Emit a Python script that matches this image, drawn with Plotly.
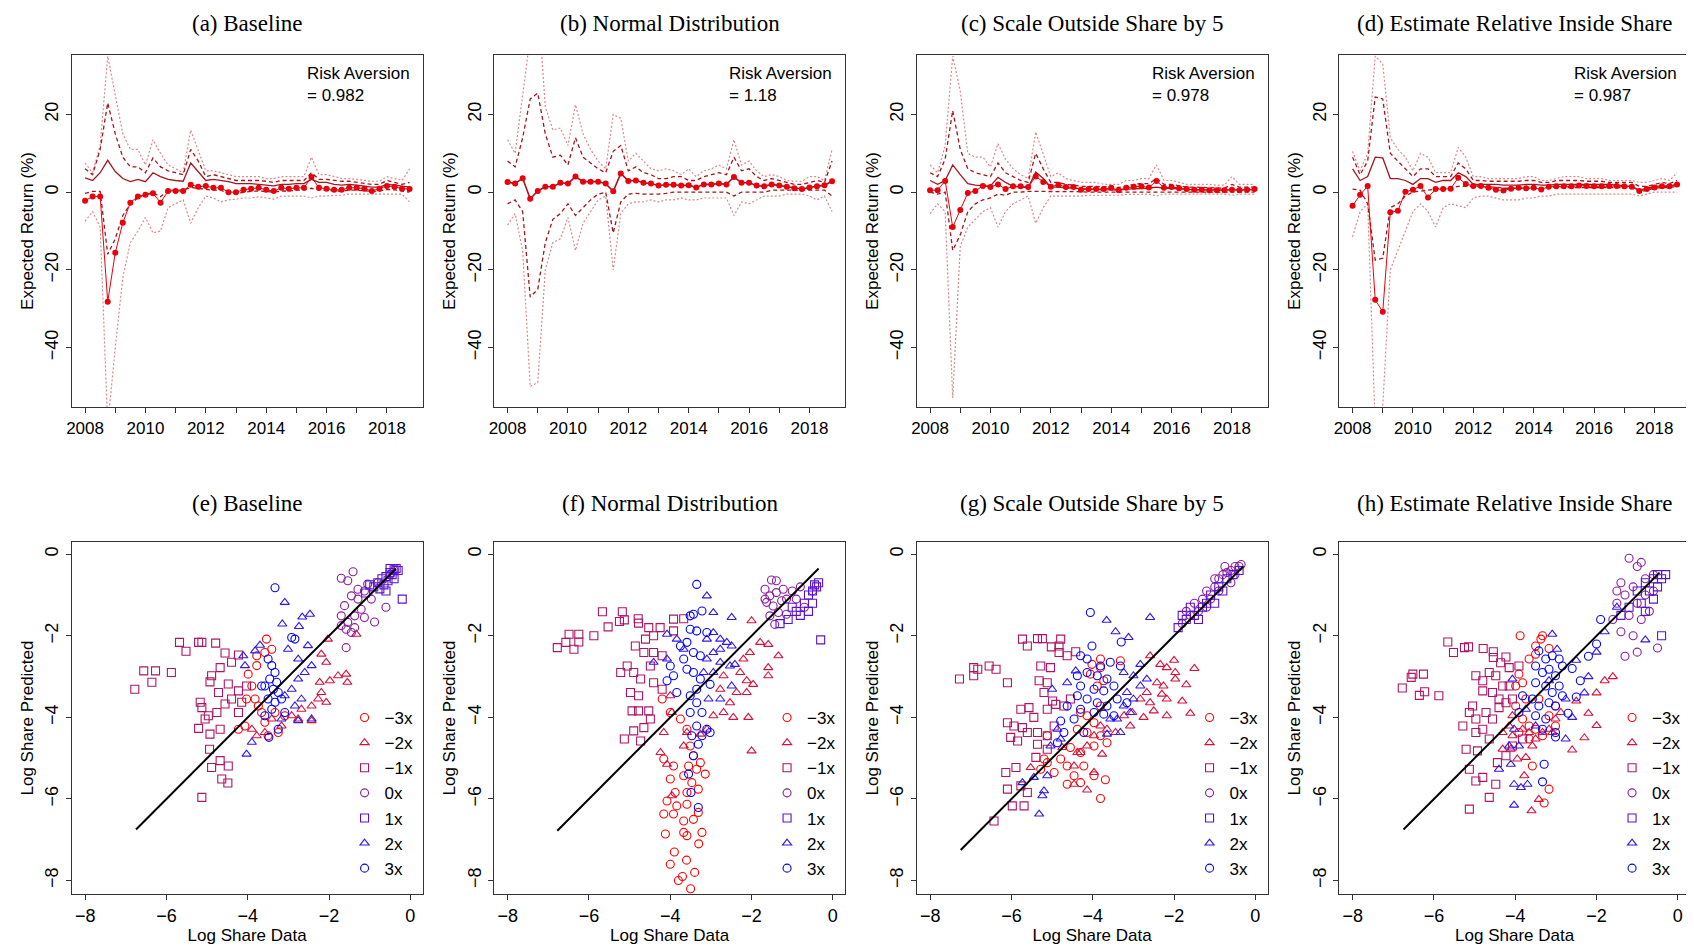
import plotly.graph_objects as go
from plotly.subplots import make_subplots

# ── Top row: expected return series (quarterly, 2008Q1 – 2018Q4) ─────────────
QUARTERS = [2008 + q * 0.25 for q in range(44)]
TOP_TITLES = ["(a) Baseline", "(b) Normal Distribution",
              "(c) Scale Outside Share by 5", "(d) Estimate Relative Inside Share"]
BOT_TITLES = ["(e) Baseline", "(f) Normal Distribution",
              "(g) Scale Outside Share by 5", "(h) Estimate Relative Inside Share"]
RISK_AVERSION = ["0.982", "1.18", "0.978", "0.987"]

DOTS = [
    [-2.2, -1.1, -1.1, -28.2, -15.6, -7.9, -2.7, -1.1, -0.7, -0.3, -2.7, 0.3, 0.3, 0.3, 1.9, 1.4, 1.6, 1.1, 1.1, 0, 0, 0.6,
     0.9, 1.1, 0.6, 0.3, 1.1, 0.9, 1.1, 1.1, 3.9, 1.1, 0.9, 0.6, 0.6, 1.1, 1.1, 0.9, 0.3, 0.9, 1.6, 1.4, 0.9, 0.8],
    [2.6, 2.2, 3.6, -1.7, 0.3, 1.4, 1.4, 2.4, 2.2, 4.0, 2.7, 2.7, 2.7, 2.2, 0.2, 4.8, 2.9, 3.0, 2.4, 2.2, 1.7, 1.9,
     1.9, 1.7, 1.8, 1.2, 2.0, 2.0, 2.2, 2.0, 3.9, 2.4, 2.4, 1.7, 1.5, 2.0, 1.7, 1.4, 1.0, 0.8, 1.2, 1.5, 1.8, 2.8],
    [0.5, 0.5, 2.9, -9.0, -4.6, -0.2, 0.3, 1.6, 1.3, 2.0, 0.8, 1.5, 1.5, 1.3, 4.0, 2.6, 1.4, 1.9, 1.3, 1.3, 0.6, 0.8,
     0.8, 0.8, 1.1, 0.5, 1.1, 1.4, 1.5, 1.2, 2.9, 1.1, 1.3, 1.0, 0.8, 0.6, 0.6, 0.5, 0.5, 0.5, 0.6, 0.5, 0.6, 0.8],
    [-3.5, -0.7, 1.6, -27.7, -30.8, -5.2, -4.8, 0.1, 0.6, 1.6, -1.4, 0.8, 0.8, 0.9, 3.7, 2.1, 1.6, 1.6, 1.1, 0.6, 0.4, 0.9,
     1.1, 1.0, 1.1, 0.7, 1.4, 1.5, 1.5, 1.5, 1.7, 1.6, 1.5, 1.5, 1.6, 1.6, 1.5, 1.4, 0.3, 0.8, 1.2, 1.5, 1.5, 2.0],
]
SOLID = [
    [3.7, 3.0, 5.0, 8.2, 5.3, 3.5, 2.7, 3.3, 2.7, 5.0, 4.0, 3.3, 3.0, 2.8, 7.5, 5.3, 3.0, 3.3, 3.0, 2.7, 2.2, 2.2,
     2.2, 2.0, 1.8, 1.6, 2.0, 2.0, 2.2, 2.2, 3.3, 2.5, 2.5, 2.0, 1.8, 2.0, 1.8, 1.5, 1.3, 1.3, 2.0, 1.8, 1.5, 1.3],
    None,
    [3.0, 2.0, 3.0, 7.0, 4.5, 2.2, 1.8, 1.6, 1.6, 3.8, 2.5, 1.5, 1.3, 1.2, 5.2, 3.5, 1.3, 1.3, 1.1, 1.0, 0.8, 0.7,
     0.7, 0.6, 0.6, 0.5, 0.8, 0.9, 1.0, 1.0, 1.3, 1.0, 1.0, 0.8, 0.7, 0.6, 0.6, 0.5, 0.5, 0.5, 0.6, 0.6, 0.6, 0.6],
    [6.0, 3.0, 4.0, 9.0, 8.8, 3.5, 3.5, 3.0, 2.0, 3.5, 3.5, 2.5, 3.0, 3.0, 5.0, 4.0, 2.0, 2.0, 2.0, 2.0, 1.8, 1.8,
     1.8, 2.0, 2.0, 1.8, 1.8, 2.0, 2.0, 2.0, 2.0, 2.0, 2.0, 2.0, 2.0, 1.8, 1.6, 1.5, 0.5, 1.0, 1.5, 1.6, 1.6, 2.0],
]
DASH_HI = [
    [6, 4.5, 11, 23, 15, 9, 6.5, 6.5, 5, 8.8, 6.5, 5.5, 5, 4.5, 11, 8, 4, 4.5, 4, 3.5, 3, 3,
     3, 3, 2.8, 2.5, 3, 3, 3, 3, 5, 3.3, 3.3, 3, 2.8, 2.8, 2.5, 2.3, 2, 2, 3, 2.5, 2, 2.5],
    [8, 6.5, 14, 24, 25.5, 15, 9, 9.5, 7, 14, 9, 7.5, 6, 5, 10.5, 12, 5.5, 6.5, 5, 4.5, 3.5, 3.5,
     4, 4, 3, 3, 4, 4.5, 5, 4.5, 9, 5.5, 6, 4, 3, 3.5, 3, 2.5, 2, 2, 2.5, 3, 2.5, 8],
    [5, 4, 8.5, 21, 11, 6, 5, 4.5, 4, 7.5, 5, 4, 3, 2.5, 10, 6, 2.5, 2.5, 2, 1.8, 1.5, 1.5,
     1.5, 1.4, 1.3, 1.2, 1.5, 2, 2.2, 2.2, 3.5, 2, 2, 1.7, 1.3, 1.3, 1.2, 1.1, 1, 1, 2, 1.3, 1.3, 1.3],
    [9, 4.5, 8, 24.5, 24, 10, 8, 6, 4, 6, 6, 4, 4, 4, 7.5, 6, 3, 3, 2.8, 2.8, 2.8, 2.8,
     2.8, 3, 3, 2.5, 2.5, 3, 3, 3, 3, 2.8, 2.8, 2.8, 2.5, 2.5, 2.5, 2.5, 1.5, 1.5, 2, 2.5, 2.2, 3],
]
DASH_LO = [
    [-0.3, 0.2, 0.2, -16, -12, -6, -3, -1.5, -0.5, -0.2, -1.2, 0.5, 0.5, 0.5, 1.2, 1, 0.8, 0.5, 0.5, -0.3, -0.3, 0,
     0.2, 0.3, 0.2, 0, 0.3, 0.3, 0.5, 0.5, 1, 0.5, 0.5, 0.3, 0.3, 0.5, 0.5, 0.3, 0.2, 0.3, 0.7, 0.6, 0.3, 0],
    [-3, -2, -5, -27, -25, -13, -7, -5.5, -3, -6, -4, -2, -0.5, 0, -10.5, -2.5, -0.5, -0.3, -0.5, -0.5, -0.5, -0.3,
     0, 0, 0, 0, 0, 0, 0, 0, -1, 0, 0, 0, 0, 0.5, 0.5, 0.5, 0.5, 0.5, 0.5, 0.5, 0.5, -1],
    [0, -0.5, 0, -15, -11, -5, -3, -2, -1.5, -0.5, -0.8, 0, 0, 0.2, 0.2, 0.2, 0.2, 0.2, 0.2, 0.2, 0.1, 0,
     0, 0, 0, 0, 0, 0, 0, 0, 0, 0, 0, 0, 0, 0, 0, 0, 0, 0, 0, 0, 0, 0],
    [0.8, 0.5, -3, -17.5, -17, -4, -3, -1, 0, 0.3, 0.5, 0.8, 1, 1, 1.5, 1.5, 1.5, 1.5, 1.3, 1.3, 1, 1,
     1, 1, 1, 1, 1.2, 1.2, 1.2, 1.2, 1.2, 1.2, 1.2, 1.2, 1.2, 1.2, 1.2, 1.2, 0, 0.5, 1, 1.2, 1.2, 1.5],
]
DOT_HI = [
    [7.5, 5, 12, 35, 25, 15, 11, 11, 7, 13.5, 10, 7, 6, 5, 16, 11, 5.5, 5.5, 5, 4.5, 4, 4,
     4, 4, 3.5, 3.5, 4, 4, 4, 4, 9, 4.5, 4.5, 4, 3.5, 3.5, 3.3, 3, 2.8, 2.8, 4, 3.5, 3, 6],
    [13.5, 10, 25, 40, 50, 22, 16, 16.5, 12, 22.5, 15, 11, 8, 6, 20, 19, 8, 10, 8, 6, 5.5, 6,
     5.5, 4.5, 6, 4, 5.5, 6, 7, 6, 13.5, 7, 8, 5.5, 4, 4.5, 4, 3, 2.8, 2.8, 4, 4, 3, 11],
    [7, 5, 12, 35, 26, 10, 9, 9, 6.5, 12.5, 8.5, 6, 4.5, 3.5, 15.5, 10, 4, 5, 3.5, 3, 2.5, 2.5,
     2.5, 2, 2, 2, 3, 3, 3.5, 3.5, 7, 3, 3, 2.5, 2, 2, 2, 2, 1.8, 1.8, 4, 2, 2, 2],
    [10.5, 5.5, 10, 35, 33, 14, 11, 9, 5.5, 10, 9, 5, 5, 5, 11.5, 9, 4, 4, 3.5, 3.5, 3.5, 3.5,
     3.5, 4, 4, 3, 3, 3.5, 4, 4, 4, 3.5, 3.5, 3.5, 3, 3, 3, 3, 2.5, 2.5, 3, 3.5, 3, 5],
]
DOT_LO = [
    [-7.5, -5, -9, -60, -40, -22, -13, -10, -6.5, -10.5, -10, -4, -3, -2, -8, -4, -1, -1.5, -2.5, -2, -1.8, -1.5,
     -1.5, -1.2, -1.5, -1.8, -1, -1, -1, -1, -1.5, -1, -1, -0.8, -0.8, -0.5, -0.5, -0.5, -0.5, -0.5, -0.5, -0.5, -0.5, -2.5],
    [-8.5, -5.5, -15, -50, -49, -20, -13, -12, -6.5, -15, -8, -5, -2, -1, -20, -5.5, -3, -2.5, -2.5, -2, -2.5, -2,
     -2, -1.5, -2, -2, -1.5, -1.5, -1.5, -1.5, -6, -2.5, -3, -2, -1, -1, -1, -0.5, -0.5, -0.5, -1, -2, -1, -5],
    [-5.5, -3, -5, -53, -14, -9, -7, -5, -4, -9, -5, -3, -2, -1, -8, -4, -1, -1, -1, -1, -1, -0.8,
     -0.8, -0.8, -0.8, -0.8, -0.6, -0.6, -0.5, -0.5, -1, -0.5, -0.5, -0.5, -0.5, -0.5, -0.5, -0.5, -0.5, -0.5, -0.8, -0.5, -0.5, -0.5],
    [-11.5, -5, -3, -60, -55, -20, -15, -10, -5, -3, -5, -9, -4, -3, -3.5, -4, -1.5, -1, -1, -1.5, -2, -2,
     -2, -1.5, -1.5, -1, -1, -0.5, -0.5, -0.5, -0.5, -0.5, -0.5, -0.5, -0.5, -0.5, -0.5, -0.5, -1, -0.5, 0, 0, 0, 0],
]

# ── Bottom row: log share predicted vs data, per shock group ──────────────────
GROUPS = ["−3x", "−2x", "−1x", "0x", "1x", "2x", "3x"]
GROUP_SYMBOLS = ["circle-open", "triangle-up-open", "square-open", "circle-open",
                 "square-open", "triangle-up-open", "circle-open"]
GROUP_COLORS = ["#FF0000", "#D8103C", "#AE1468", "#8C1C9E", "#5A14C8", "#3218E8", "#0000FF"]
DIAG = [(-6.75, -0.35), (-6.78, -0.35), (-7.25, -0.3), (-6.75, -0.45)]

# panel (e)
E_M3 = [(-3.54, -2.08), (-3.58, -2.41), (-3.78, -2.49), (-3.99, -2.94), (-3.90, -3.23), (-4.03, -3.55), (-3.82, -3.55),
        (-3.66, -3.88), (-4.23, -4.29), (-4.07, -4.21), (-3.58, -4.12), (-3.33, -3.88), (-3.25, -4.37), (-3.50, -4.45),
        (-3.78, -2.73), (-3.41, -2.33), (-3.09, -3.96), (-3.74, -3.72)]
E_M2 = [(-2.03, -2.08), (-2.07, -2.65), (-2.19, -2.45), (-2.23, -3.14), (-1.98, -3.10), (-1.78, -2.98), (-1.58, -2.94),
        (-1.55, -3.14), (-2.19, -3.39), (-2.07, -3.63), (-2.43, -3.72), (-2.68, -3.80), (-2.92, -3.96), (-3.17, -4.21),
        (-3.58, -4.37), (-3.78, -4.45), (-2.43, -4.08), (-2.76, -4.04), (-3.41, -4.04), (-3.90, -4.29), (-1.33, -1.96),
        (-2.27, -3.55)]
E_M1 = [(-6.78, -3.31), (-6.56, -2.86), (-6.27, -2.86), (-6.36, -3.14), (-5.88, -2.90), (-5.68, -2.16), (-5.52, -2.38),
        (-5.21, -2.16), (-5.13, -2.16), (-4.79, -2.18), (-4.56, -2.42), (-4.23, -2.47), (-4.68, -2.78), (-4.40, -2.65),
        (-4.89, -2.98), (-4.93, -3.13), (-4.72, -3.39), (-4.48, -3.18), (-4.23, -3.35), (-5.17, -3.63), (-5.13, -3.76),
        (-4.97, -3.96), (-4.76, -3.88), (-4.56, -3.67), (-4.40, -3.55), (-4.23, -3.88), (-4.15, -3.63), (-5.21, -4.27),
        (-4.93, -4.41), (-4.68, -4.29), (-4.94, -4.78), (-4.89, -5.23), (-4.68, -5.06), (-4.48, -5.19), (-4.64, -5.51),
        (-4.49, -5.61), (-5.13, -5.96), (-5.05, -4.04), (-4.03, -3.23)]
E_Z0 = [(-1.70, -0.59), (-1.54, -0.65), (-1.41, -0.43), (-1.05, -0.73), (-1.13, -0.90), (-1.29, -0.86), (-1.45, -1.02),
        (-1.62, -1.26), (-1.70, -1.51), (-1.54, -1.67), (-1.37, -1.51), (-1.21, -1.35), (-1.13, -1.55), (-1.58, -1.84),
        (-1.45, -1.92), (-1.58, -2.29), (-0.88, -1.66), (-1.29, -1.10), (-0.96, -1.10), (-1.70, -1.75), (-1.37, -1.80),
        (-0.8, -0.7), (-0.5, -0.5), (-0.6, -1.3), (-0.4, -0.4)]
E_P1 = [(-1.1, -0.95), (-0.9, -0.8), (-0.8, -0.7), (-0.7, -0.6), (-0.6, -0.55), (-0.5, -0.45), (-0.4, -0.38),
        (-0.35, -0.35), (-0.45, -0.5), (-0.55, -0.65), (-0.65, -0.75), (-0.3, -0.4), (-0.2, -1.1), (-0.6, -0.9),
        (-1.0, -0.75), (-0.75, -0.85), (-0.4, -0.6), (-0.5, -0.35)]
E_P2 = [(-3.09, -1.18), (-3.15, -1.71), (-2.74, -1.77), (-2.66, -1.54), (-2.47, -1.47), (-3.70, -2.23), (-3.82, -2.37),
        (-4.11, -2.49), (-4.07, -2.73), (-3.01, -2.33), (-2.76, -2.57), (-2.52, -2.24), (-2.43, -2.73), (-2.60, -2.90),
        (-2.76, -3.06), (-2.92, -3.31), (-2.68, -3.55), (-2.84, -3.72), (-3.09, -3.47), (-2.76, -4.08), (-4.03, -4.90),
        (-3.90, -4.61), (-3.17, -4.04), (-2.43, -4.04)]
E_P3 = [(-3.50, -2.57), (-3.41, -2.73), (-3.33, -2.90), (-3.46, -3.06), (-3.58, -3.23), (-3.37, -3.31), (-3.25, -3.39),
        (-3.50, -3.55), (-3.33, -3.63), (-3.17, -3.55), (-3.41, -3.80), (-3.58, -3.96), (-2.92, -2.04), (-2.84, -2.08),
        (-3.33, -0.82), (-3.09, -3.88), (-3.25, -4.29), (-3.48, -4.49), (-3.66, -3.23), (-3.29, -3.14)]

# panel (f)
F_M3 = [(-4.20, -3.55), (-4.00, -3.88), (-3.75, -4.04), (-3.59, -4.29), (-3.51, -4.70), (-3.43, -4.94), (-3.55, -5.19),
        (-3.35, -5.27), (-3.67, -5.43), (-3.47, -5.60), (-4.00, -5.51), (-3.88, -5.84), (-3.59, -5.84), (-3.31, -5.76),
        (-4.08, -6.05), (-3.84, -6.17), (-3.59, -6.13), (-3.31, -6.33), (-4.16, -6.37), (-3.92, -6.37), (-3.67, -6.54),
        (-3.43, -6.50), (-3.22, -6.82), (-3.67, -6.82), (-4.12, -6.86), (-3.59, -6.90), (-3.26, -5.11), (-3.14, -5.39),
        (-4.16, -5.02), (-3.92, -5.19), (-3.9, -7.3), (-3.6, -7.5), (-3.4, -7.8), (-3.8, -8.0), (-3.5, -8.2),
        (-4.0, -7.6), (-3.3, -7.1), (-3.7, -7.9)]
F_M2 = [(-2.00, -1.63), (-1.79, -2.16), (-1.59, -2.21), (-1.34, -2.49), (-1.59, -2.78), (-1.59, -2.98), (-2.04, -2.41),
        (-2.20, -2.57), (-2.28, -2.90), (-2.12, -3.10), (-1.96, -3.19), (-2.37, -3.39), (-2.12, -3.39), (-2.53, -3.64),
        (-2.69, -3.88), (-2.45, -4.00), (-2.08, -4.00), (-2.94, -3.96), (-3.10, -4.29), (-3.26, -4.41), (-3.59, -4.37),
        (-3.67, -4.70), (-3.96, -3.88), (-4.16, -4.37), (-4.24, -4.86), (-4.08, -5.15), (-3.96, -5.92), (-2.77, -3.31),
        (-2.69, -2.98), (-2.00, -4.82), (-4.00, -3.47)]
F_M1 = [(-6.78, -2.29), (-6.57, -2.16), (-6.49, -1.96), (-6.25, -1.96), (-6.37, -2.33), (-6.25, -2.15), (-5.88, -2.00),
        (-5.67, -1.41), (-5.53, -1.78), (-5.18, -1.41), (-5.25, -1.65), (-5.13, -1.61), (-4.79, -1.58), (-4.78, -1.69),
        (-4.53, -1.80), (-4.25, -1.80), (-4.41, -2.00), (-4.61, -2.08), (-4.86, -2.25), (-4.65, -2.41), (-4.41, -2.41),
        (-4.20, -2.49), (-5.06, -2.74), (-4.90, -2.90), (-5.22, -2.90), (-4.73, -3.06), (-4.49, -2.74), (-4.41, -3.15),
        (-4.20, -3.31), (-4.98, -3.39), (-4.78, -3.47), (-4.94, -3.84), (-4.78, -3.84), (-4.53, -3.84), (-4.49, -4.04),
        (-4.65, -4.25), (-4.90, -4.33), (-5.13, -4.53), (-4.73, -4.58), (-3.92, -1.59), (-3.67, -1.58), (-3.92, -1.88)]
F_Z0 = [(-1.51, -0.63), (-1.39, -0.65), (-1.67, -0.86), (-1.55, -1.02), (-1.39, -0.94), (-1.22, -0.86), (-1.63, -1.18),
        (-1.47, -1.27), (-1.26, -1.14), (-1.14, -1.10), (-1.55, -1.51), (-1.34, -1.43), (-1.43, -1.72), (-1.14, -1.47),
        (-1.67, -1.10), (-0.9, -1.1), (-0.7, -1.3), (-0.5, -0.9), (-0.8, -0.8), (-1.0, -0.9)]
F_P1 = [(-1.1, -1.6), (-0.9, -1.4), (-0.7, -1.2), (-0.6, -1.0), (-0.5, -0.9), (-0.4, -0.8), (-0.35, -0.7),
        (-0.8, -1.5), (-1.0, -1.3), (-0.5, -1.2), (-0.3, -2.1), (-1.3, -1.7), (-0.6, -1.4), (-0.45, -0.75)]
F_P2 = [(-3.10, -1.02), (-2.94, -1.43), (-2.49, -1.55), (-4.08, -1.96), (-3.84, -2.08), (-3.67, -2.33), (-3.10, -2.08),
        (-2.94, -1.92), (-2.77, -2.08), (-2.61, -2.16), (-2.49, -2.25), (-2.77, -2.33), (-2.94, -2.41), (-3.10, -2.57),
        (-2.77, -2.65), (-2.53, -2.74), (-2.41, -2.70), (-4.41, -2.65), (-4.08, -2.57), (-3.18, -2.90), (-2.94, -2.90),
        (-2.49, -3.23), (-2.77, -3.55), (-3.06, -3.55)]
F_P3 = [(-3.35, -0.74), (-3.22, -1.39), (-3.43, -1.47), (-3.51, -1.51), (-3.51, -1.84), (-3.35, -1.88), (-3.10, -1.92),
        (-3.59, -2.16), (-3.43, -2.41), (-3.26, -2.49), (-3.67, -2.57), (-3.75, -2.25), (-3.59, -2.82), (-3.92, -2.98),
        (-3.43, -2.90), (-3.26, -3.06), (-3.35, -3.31), (-3.51, -3.47), (-3.35, -3.64), (-3.22, -3.88), (-3.02, -3.19),
        (-3.51, -3.88), (-3.35, -4.21), (-3.10, -4.29), (-3.22, -4.45), (-3.02, -4.37), (-3.47, -4.45), (-3.31, -4.66),
        (-3.43, -4.94), (-3.55, -5.39), (-3.49, -5.84), (-3.31, -6.21), (-4.00, -2.74), (-4.08, -3.10), (-3.84, -3.39)]

# panel (g)
G_M3 = [(-3.81, -2.57), (-3.81, -2.78), (-4.02, -2.70), (-4.06, -2.94), (-3.73, -3.10), (-3.32, -2.61), (-3.89, -3.23),
        (-4.30, -3.88), (-4.14, -3.96), (-3.97, -4.13), (-4.38, -4.29), (-4.14, -4.37), (-3.81, -4.45), (-3.65, -4.62),
        (-3.97, -4.70), (-4.30, -4.86), (-4.55, -4.74), (-4.79, -5.02), (-5.12, -5.11), (-5.28, -5.27), (-4.95, -5.35),
        (-4.63, -5.19), (-4.46, -5.43), (-4.30, -5.60), (-4.63, -5.64), (-3.97, -5.43), (-3.69, -5.53), (-3.81, -5.99),
        (-5.20, -5.02), (-4.22, -5.19), (-5.12, -4.45), (-3.81, -3.72)]
G_M2 = [(-2.59, -2.49), (-2.34, -2.70), (-2.18, -2.78), (-1.97, -2.90), (-1.97, -3.06), (-2.26, -3.23), (-2.42, -3.15),
        (-2.67, -3.39), (-2.83, -3.55), (-2.59, -3.64), (-2.30, -3.43), (-2.18, -3.55), (-2.18, -3.96), (-2.50, -3.84),
        (-2.75, -4.00), (-3.03, -3.88), (-3.23, -3.96), (-3.44, -4.37), (-3.08, -4.21), (-3.65, -4.29), (-3.81, -4.21),
        (-3.97, -4.45), (-4.14, -4.70), (-4.38, -4.86), (-4.46, -5.19), (-4.30, -4.86), (-3.77, -4.90), (-3.97, -5.35),
        (-4.46, -5.64), (-4.14, -5.78), (-4.75, -4.74), (-5.53, -5.23), (-1.7, -3.2), (-1.5, -2.8), (-1.8, -3.6),
        (-1.6, -3.9), (-2.0, -2.6)]
G_M1 = [(-7.28, -3.06), (-6.93, -2.98), (-6.93, -2.78), (-6.83, -2.82), (-6.55, -2.74), (-6.38, -2.82), (-6.10, -3.15),
        (-5.73, -2.08), (-5.61, -2.25), (-5.36, -2.07), (-5.24, -2.07), (-5.02, -2.27), (-4.79, -2.08), (-4.83, -2.25),
        (-4.83, -2.41), (-4.63, -2.49), (-4.42, -2.39), (-5.28, -2.74), (-5.04, -2.78), (-5.12, -3.15), (-5.32, -3.10),
        (-5.20, -3.39), (-4.99, -3.60), (-5.12, -3.80), (-4.91, -3.68), (-4.71, -3.72), (-4.55, -3.55), (-5.77, -3.80),
        (-5.57, -3.76), (-5.45, -4.00), (-6.10, -4.13), (-5.94, -4.21), (-5.73, -4.25), (-5.61, -4.37), (-6.02, -4.49),
        (-5.85, -4.58), (-5.36, -4.37), (-5.36, -4.66), (-5.12, -4.45), (-5.12, -4.78), (-6.14, -5.35), (-5.89, -5.23),
        (-6.10, -5.76), (-5.98, -6.17), (-5.69, -6.17), (-5.61, -5.84), (-6.43, -6.54), (-5.77, -5.68), (-4.95, -4.21),
        (-5.40, -4.98)]
G_Z0 = [(-1.8, -1.7), (-1.6, -1.5), (-1.5, -1.2), (-1.3, -1.1), (-1.2, -0.9), (-1.0, -0.8), (-0.9, -0.6), (-0.8, -0.5),
        (-0.7, -0.45), (-0.6, -0.4), (-0.5, -0.3), (-0.4, -0.3), (-0.35, -0.25), (-1.4, -1.4), (-1.7, -1.4),
        (-1.1, -1.1), (-0.9, -0.9), (-0.6, -0.7), (-1.2, -1.3), (-0.5, -0.5), (-0.75, -0.3), (-1.0, -0.6)]
G_P1 = [(-1.9, -1.8), (-1.7, -1.6), (-1.5, -1.5), (-1.3, -1.3), (-1.1, -1.0), (-0.9, -0.8), (-0.7, -0.6),
        (-0.55, -0.5), (-0.4, -0.4), (-1.6, -1.3), (-1.2, -1.2), (-0.8, -0.9), (-1.4, -1.6), (-1.0, -1.2), (-1.8, -1.5)]
G_P2 = [(-3.66, -1.62), (-3.44, -1.90), (-3.12, -2.04), (-2.59, -1.55), (-4.42, -2.86), (-4.63, -3.15), (-5.00, -3.31),
        (-3.24, -2.90), (-3.00, -2.98), (-2.83, -2.70), (-2.83, -3.23), (-2.67, -3.06), (-3.16, -3.39), (-3.00, -3.55),
        (-3.24, -3.72), (-3.40, -4.04), (-3.32, -4.37), (-3.65, -4.41), (-4.79, -4.53), (-5.04, -4.70), (-5.12, -5.43),
        (-5.45, -5.47), (-5.73, -5.60), (-5.20, -5.80), (-5.24, -5.92), (-5.32, -6.37), (-4.87, -4.29), (-3.08, -3.88),
        (-3.57, -4.04)]
G_P3 = [(-4.06, -1.43), (-4.02, -2.25), (-3.30, -2.15), (-4.30, -2.49), (-4.14, -2.57), (-3.81, -2.74), (-3.57, -2.65),
        (-3.32, -2.74), (-4.38, -2.98), (-4.14, -2.90), (-3.89, -2.98), (-3.65, -3.06), (-4.30, -3.23), (-3.97, -3.31),
        (-3.73, -3.35), (-3.48, -3.23), (-4.38, -3.47), (-4.14, -3.55), (-3.89, -3.64), (-3.65, -3.72), (-3.40, -3.55),
        (-4.30, -3.80), (-3.97, -3.88), (-3.73, -3.92), (-4.63, -3.72), (-4.46, -4.04), (-4.79, -4.09), (-4.22, -4.37),
        (-4.71, -4.37), (-4.87, -4.62), (-3.48, -3.96), (-3.16, -3.64)]

# panel (h)
H_M3 = [(-3.88, -2.00), (-3.33, -2.00), (-3.37, -2.08), (-3.50, -2.25), (-3.17, -2.31), (-3.66, -2.57), (-3.50, -2.45),
        (-3.91, -2.94), (-3.82, -3.15), (-3.99, -3.23), (-3.74, -3.55), (-3.99, -3.72), (-3.82, -4.04), (-3.66, -4.21),
        (-3.91, -4.37), (-3.50, -4.29), (-3.33, -4.45), (-3.66, -4.53), (-3.17, -3.96), (-3.01, -4.21), (-3.58, -5.19),
        (-3.17, -5.76), (-3.29, -6.10), (-3.01, -3.72), (-3.42, -3.55)]
H_M2 = [(-4.31, -4.78), (-4.11, -4.78), (-3.95, -5.02), (-3.74, -4.98), (-4.07, -4.45), (-3.82, -4.29), (-3.66, -4.37),
        (-3.50, -4.53), (-3.33, -4.37), (-3.17, -4.29), (-3.01, -4.04), (-2.88, -3.88), (-3.58, -4.70), (-3.78, -5.43),
        (-3.42, -6.01), (-3.60, -6.29), (-3.09, -4.37), (-4.31, -4.37), (-4.07, -3.96), (-4.15, -4.21), (-2.5, -3.6),
        (-2.2, -3.9), (-2.0, -4.2), (-1.8, -3.1), (-2.3, -4.5), (-1.6, -3.0), (-2.6, -4.8), (-2.0, -3.4)]
H_M1 = [(-6.78, -3.28), (-6.56, -3.02), (-6.52, -2.94), (-6.36, -3.46), (-6.26, -2.94), (-6.23, -3.37), (-5.88, -3.47),
        (-5.66, -2.15), (-5.52, -2.41), (-5.25, -2.29), (-5.15, -2.27), (-4.79, -2.31), (-4.54, -2.39), (-4.23, -2.52),
        (-4.54, -2.53), (-4.36, -2.66), (-4.97, -2.98), (-4.80, -3.10), (-4.64, -2.90), (-4.48, -2.98), (-4.15, -2.78),
        (-3.91, -2.74), (-4.80, -3.35), (-4.56, -3.39), (-4.31, -3.23), (-4.40, -3.55), (-4.23, -3.64), (-4.07, -3.55),
        (-5.13, -3.88), (-4.97, -4.04), (-4.72, -3.88), (-4.56, -4.04), (-4.97, -4.37), (-4.80, -4.29), (-5.21, -4.78),
        (-4.93, -4.82), (-4.64, -4.53), (-5.13, -5.27), (-4.97, -5.56), (-4.80, -5.47), (-4.48, -5.64), (-4.64, -5.96),
        (-5.13, -6.25), (-4.44, -5.11), (-4.23, -4.94), (-4.07, -4.70), (-3.82, -4.53), (-5.29, -4.21), (-5.05, -3.72),
        (-4.40, -3.76), (-4.15, -3.23)]
H_Z0 = [(-1.2, -0.1), (-1.0, -0.3), (-0.9, -0.2), (-0.8, -0.6), (-1.1, -0.8), (-1.3, -1.0), (-1.5, -1.2), (-1.6, -1.6),
        (-1.4, -1.9), (-1.2, -1.5), (-1.0, -1.2), (-0.8, -1.0), (-0.9, -1.6), (-1.1, -2.0), (-1.3, -2.5), (-0.6, -0.9),
        (-0.7, -1.4), (-1.5, -0.9), (-0.5, -2.3), (-1.0, -2.4), (-0.6, -0.5), (-1.4, -0.7)]
H_P1 = [(-1.0, -0.9), (-0.8, -0.7), (-0.6, -0.6), (-0.5, -0.5), (-0.4, -0.6), (-0.7, -0.9), (-0.9, -1.2), (-1.2, -1.3),
        (-0.5, -0.8), (-0.3, -0.5), (-0.6, -1.1), (-1.4, -1.5), (-0.4, -2.0), (-0.8, -1.4)]
H_P2 = [(-3.09, -1.96), (-2.97, -2.33), (-4.07, -3.06), (-4.03, -4.29), (-4.15, -4.70), (-3.91, -4.70), (-4.40, -5.27),
        (-4.11, -5.15), (-4.03, -5.64), (-3.86, -5.72), (-3.70, -5.64), (-4.03, -6.15), (-3.50, -4.21), (-3.74, -3.80),
        (-3.17, -3.10), (-2.76, -3.55), (-2.76, -4.53), (-2.5, -2.6), (-2.2, -3.0), (-2.0, -2.4), (-1.8, -1.9),
        (-2.3, -3.4), (-1.5, -1.3), (-0.8, -2.1), (-2.6, -4.0)]
H_P3 = [(-3.42, -2.37), (-3.25, -2.57), (-3.09, -2.49), (-2.92, -2.57), (-3.50, -2.74), (-3.33, -2.90), (-3.17, -2.82),
        (-3.01, -2.98), (-2.84, -2.74), (-3.50, -3.15), (-3.25, -3.23), (-3.09, -3.39), (-2.92, -3.23), (-3.58, -3.55),
        (-3.42, -3.72), (-3.17, -3.64), (-3.01, -3.72), (-2.84, -3.47), (-3.50, -3.96), (-3.25, -4.04), (-3.01, -4.37),
        (-3.33, -4.29), (-3.91, -3.88), (-3.82, -3.47), (-3.29, -5.15), (-3.33, -5.58), (-3.01, -4.48), (-2.6, -2.8),
        (-2.4, -3.1), (-2.2, -2.5), (-2.5, -3.5), (-2.0, -2.2), (-1.9, -1.6), (-2.7, -3.9)]

SCATTER = [
    [E_M3, E_M2, E_M1, E_Z0, E_P1, E_P2, E_P3],
    [F_M3, F_M2, F_M1, F_Z0, F_P1, F_P2, F_P3],
    [G_M3, G_M2, G_M1, G_Z0, G_P1, G_P2, G_P3],
    [H_M3, H_M2, H_M1, H_Z0, H_P1, H_P2, H_P3],
]

# ── Figure geometry (pixels; shifted by the page's 8px body margin) ──────────
W, H = 1694, 947
OFF = 8
LEFTS = [66 - OFF, 490 - OFF, 914 - OFF, 1338 - OFF]
PW = 352
TOP_Y = (55 - OFF, 407 - OFF)
BOT_Y = (542 - OFF, 894 - OFF)

fig = make_subplots(rows=2, cols=4)

DARK = "#A3161E"
LIGHT = "#D88A8A"
DOTRED = "#E8000B"
SANS = "Liberation Sans, Arial"

for i in range(4):
    col = i + 1
    for band in (DOT_HI[i], DOT_LO[i]):
        fig.add_trace(go.Scatter(x=QUARTERS, y=band, mode="lines",
                                 line=dict(color=LIGHT, width=1.2, dash="2px,2px"), showlegend=False), row=1, col=col)
    for band in (DASH_HI[i], DASH_LO[i]):
        fig.add_trace(go.Scatter(x=QUARTERS, y=band, mode="lines",
                                 line=dict(color=DARK, width=1.3, dash="4px,3px"), showlegend=False), row=1, col=col)
    if SOLID[i] is not None:
        fig.add_trace(go.Scatter(x=QUARTERS, y=SOLID[i], mode="lines",
                                 line=dict(color=DARK, width=1.3), showlegend=False), row=1, col=col)
    dot_line = dict(color=DARK, width=1.6) if SOLID[i] is None else dict(color=DOTRED, width=1)
    fig.add_trace(go.Scatter(x=QUARTERS, y=DOTS[i], mode="markers+lines", line=dot_line,
                             marker=dict(color=DOTRED, size=6), showlegend=False), row=1, col=col)

    leg = "legend" if i == 0 else f"legend{i + 1}"
    for g, pts in enumerate(SCATTER[i]):
        fig.add_trace(go.Scatter(
            x=[p[0] for p in pts], y=[p[1] for p in pts], mode="markers",
            name=GROUPS[g], legend=leg,
            marker=dict(symbol=GROUP_SYMBOLS[g], color=GROUP_COLORS[g], size=8,
                        line=dict(width=1.1, color=GROUP_COLORS[g])),
        ), row=2, col=col)
    fig.add_trace(go.Scatter(x=list(DIAG[i]), y=list(DIAG[i]), mode="lines",
                             line=dict(color="black", width=2), showlegend=False), row=2, col=col)

axis_common = dict(showline=True, linecolor="#333", linewidth=1.3, mirror=True, ticks="outside",
                   ticklen=5, tickcolor="#333", showgrid=False, zeroline=False,
                   tickfont=dict(family=SANS, size=18, color="black"))
title_font = dict(family=SANS, size=17, color="black")
layout = {}
for i in range(4):
    x0, x1 = LEFTS[i] / W, (LEFTS[i] + PW) / W
    n_top, n_bot = i + 1, i + 5
    sx = "" if n_top == 1 else str(n_top)
    layout[f"xaxis{sx}"] = dict(axis_common, domain=[x0, x1], range=[2007.56, 2019.18],
                                tickvals=list(range(2008, 2019)),
                                ticktext=[str(y) if y % 2 == 0 else "" for y in range(2008, 2019)],
                                tickfont=dict(family=SANS, size=17, color="black"))
    layout[f"yaxis{sx}"] = dict(axis_common, domain=[1 - TOP_Y[1] / H, 1 - TOP_Y[0] / H],
                                range=[-55.3, 35.3], tickvals=[-40, -20, 0, 20], tickangle=-90,
                                ticktext=["−40", "−20", "0", "20"],
                                title=dict(text="Expected Return (%)", standoff=4, font=title_font))
    layout[f"xaxis{n_bot}"] = dict(axis_common, domain=[x0, x1], range=[-8.33, 0.3],
                                   tickvals=[-8, -6, -4, -2, 0], ticktext=["−8", "−6", "−4", "−2", "0"],
                                   title=dict(text="Log Share Data", standoff=2, font=title_font))
    layout[f"yaxis{n_bot}"] = dict(axis_common, domain=[1 - BOT_Y[1] / H, 1 - BOT_Y[0] / H],
                                   range=[-8.33, 0.3], tickvals=[-8, -6, -4, -2, 0], tickangle=-90,
                                   ticktext=["−8", "−6", "−4", "−2", "0"],
                                   title=dict(text="Log Share Predicted", standoff=4, font=title_font))
    leg = "legend" if i == 0 else f"legend{i + 1}"
    layout[leg] = dict(x=(LEFTS[i] + PW - 4) / W, y=1 - (BOT_Y[1] - 8) / H, xanchor="right", yanchor="bottom",
                       bgcolor="rgba(0,0,0,0)", font=dict(family=SANS, size=17, color="black"),
                       tracegroupgap=0, itemwidth=30)
fig.update_layout(**layout)

annotations = []
for i in range(4):
    cx = (LEFTS[i] + PW / 2) / W
    annotations.append(dict(text=TOP_TITLES[i], x=cx, y=1 - 1 / H, xref="paper", yref="paper",
                            xanchor="center", yanchor="top", showarrow=False,
                            font=dict(family="Liberation Serif, Times New Roman", size=23, color="black")))
    annotations.append(dict(text=BOT_TITLES[i], x=cx, y=1 - (503 - OFF) / H, xref="paper", yref="paper",
                            xanchor="center", yanchor="middle", showarrow=False,
                            font=dict(family="Liberation Serif, Times New Roman", size=23, color="black")))
    annotations.append(dict(text=f"Risk Aversion<br>= {RISK_AVERSION[i]}", x=(LEFTS[i] + 234) / W,
                            y=1 - (62 - OFF) / H, xref="paper", yref="paper", xanchor="left", yanchor="top",
                            align="left", showarrow=False, font=dict(family=SANS, size=17, color="black")))

fig.update_layout(
    width=W, height=H, margin=dict(l=0, r=0, t=0, b=0),
    paper_bgcolor="white", plot_bgcolor="white", annotations=annotations,
)

fig.write_html("out.html")
